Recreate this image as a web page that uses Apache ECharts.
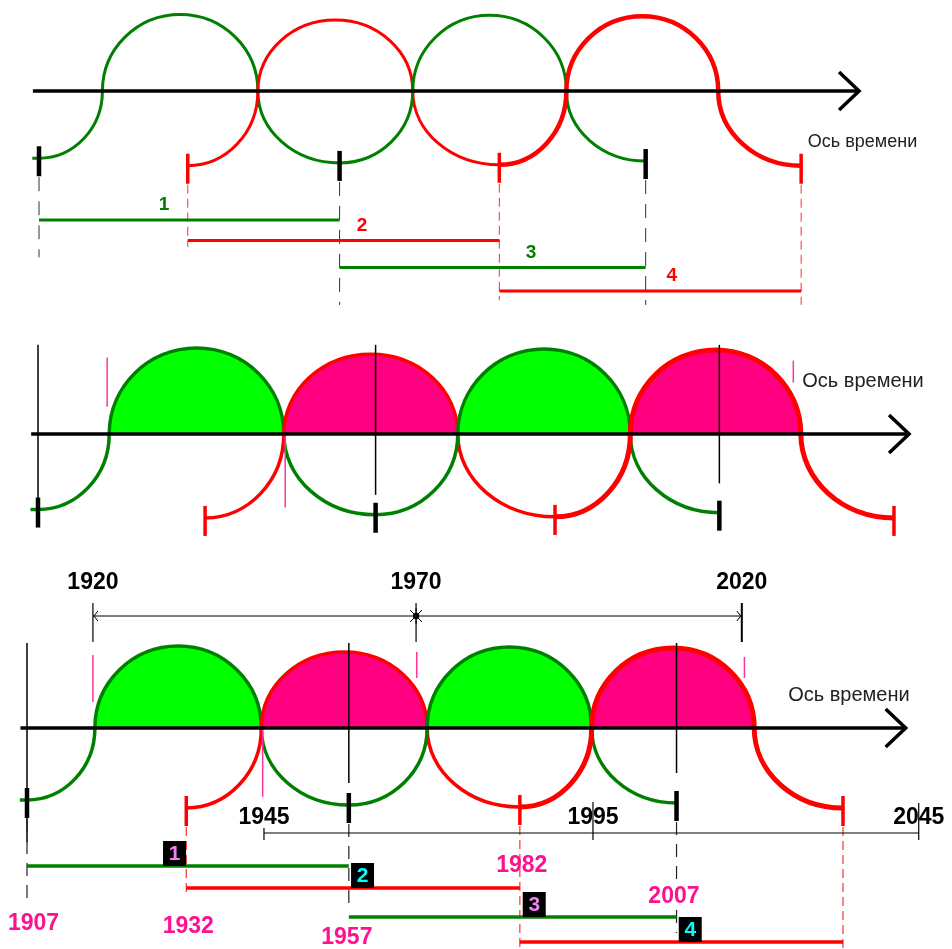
<!DOCTYPE html>
<html>
<head>
<meta charset="utf-8">
<script src="https://cdn.jsdelivr.net/npm/echarts@6/dist/echarts.min.js"></script>
<style>
  html, body { margin: 0; background: #fff; }
  #chart { width: 952px; height: 949px; }
</style>
</head>
<body>
<div id="chart"></div>
<script>
// ------------------------------------------------------------------
// data (x in years, y in amplitude units, axis = 0)
// ------------------------------------------------------------------
const tickYears     = [1907, 1931.4, 1956.3, 1982.5, 2006.5, 2032]   // wave start / end ticks
const tickLabels    = ['1907', '1932', '1957', '1982', '2007']
const crossYears    = [1917.4, 1942.9, 1968.3, 1993.5, 2018.4]       // where the waves cut the axis
const crestHeights  = [82, 76, 81, 80]
const troughDepths  = [72, 80, 77, 79, 75, 80]
const waveNames     = ['1', '2', '3', '4']
const segmentLevels = [-138, -160, -189, -214]
const axisStart     = 1906
const axisEnds      = [2041.5, 2034.2, 2041.6]
const axisTitle     = 'Ось времени'
const axisTitleAt   = [[2033.1, -55], [2018.6, 50], [2023.6, 33]]

// top panel
const topNumberAt = [1927.5, 1960, 1987.7, 2010.8]
const topDropEnds = [-178, -167, -229, -224, -229, -229]

// middle panel
const midGuides = [[1907, 85, -61], [1956.3, 85, -58], [2006.5, 85, -47]]
const midMarks  = [[1917.1, 73, 26], [1943.1, 1, -70], [2017.3, 70, 49]]

// bottom panel
const botGuides        = [[1907, 85, -114], [1956.3, 85, -55], [2006.5, 85, -45]]
const botMarks         = [[1917.1, 73, 26], [1966.7, 76, 50], [2016.9, 71, 50], [1943.1, 0, -69]]
const botDropEnds      = [-175, -165, -175, -221, -205, -221]
const upperScaleAt     = [1917.1, 1966.6, 2016.5]
const upperScaleLabels = ['1920', '1970', '2020']
const upperScaleLevel  = 112
const lowerScaleAt     = [1943.3, 1993.7, 2043.6]
const lowerScaleLabels = ['1945', '1995', '2045']
const lowerScaleTops   = [-100, -74, -75]
const lowerScaleLevel  = -105
const yearLabelAt      = [1908, 1931.7, 1956, 1982.8, 2006.1]
const yearLabelLevels  = [-196, -199, -210, -138, -169]
const boxNumberAt      = [1929.6, 1958.4, 1984.7, 2008.6]

// ------------------------------------------------------------------
// layout / styles
// ------------------------------------------------------------------
const PX_PER_YEAR = 6.528
const panels = [
  { axisY: 91,  scale: 0.934, x1907: 39, fill: false, widths: [3, 3, 3, 4.5], titleSize: 18 },
  { axisY: 434, scale: 1.049, x1907: 38, fill: true,  widths: [3.5, 3.5, 3.5, 5], titleSize: 20 },
  { axisY: 728, scale: 1.0,   x1907: 27, fill: true,  widths: [3.5, 3.5, 3.5, 5], titleSize: 20 },
]
const GREEN = '#008000'
const RED = '#ff0000'
const PINK = '#ff1090'
const waveColors = [GREEN, RED, GREEN, RED]
const fillColors = ['#00ff00', '#ff0080', '#00ff00', '#ff0080']
const boxDigitColors = ['#ee82ee', '#00ffff', '#ee82ee', '#00ffff']
const K = 0.5523
const FONT = "'Liberation Sans', Arial, sans-serif"

const waveRows = waveNames.map((_, i) => [
  tickYears[i], crossYears[i], crossYears[i + 1], tickYears[i + 2],
  crestHeights[i], troughDepths[i], troughDepths[i + 2],
])

// ------------------------------------------------------------------
// helpers
// ------------------------------------------------------------------
function custom(p, data, renderItem, z) {
  return {
    type: 'custom', xAxisIndex: p, yAxisIndex: p, data, renderItem,
    clip: false, silent: true, animation: false, z,
  }
}

function lineSeries(p, items, z) {
  return custom(p, items.map((it) => it.v), (params, api) => {
    const it = items[params.dataIndex]
    const a = api.coord([api.value(0), api.value(1)])
    const b = api.coord([api.value(2), api.value(3)])
    const o = it.off || [0, 0]
    return {
      type: 'line',
      shape: { x1: a[0], y1: a[1] + o[0], x2: b[0], y2: b[1] + o[1] },
      style: Object.assign({ fill: 'none' }, it.style),
    }
  }, z)
}

function textSeries(p, items, z) {
  return custom(p, items.map((it) => it.v), (params, api) => {
    const it = items[params.dataIndex]
    const c = api.coord([api.value(0), api.value(1)])
    return {
      type: 'text',
      x: c[0] + (it.dx || 0),
      y: c[1] + (it.dy || 0),
      style: Object.assign({ text: it.text, align: 'center', verticalAlign: 'middle' }, it.style),
    }
  }, z)
}

function wavePath(api, first) {
  const v = (k) => api.value(k)
  const t0 = v(0), c0 = v(1), c1 = v(2), t2 = v(3), h = v(4), d0 = v(5), d2 = v(6)
  const m = (c0 + c1) / 2
  const rx = (c1 - c0) / 2
  const pt = (x, y) => api.coord([x, y]).map((n) => n.toFixed(2)).join(' ')
  let d = first ? `M ${pt(t0 - 1.1, -d0)} L ${pt(t0, -d0)} ` : `M ${pt(t0, -d0)} `
  d += `C ${pt(t0 + K * (c0 - t0), -d0)} ${pt(c0, -K * d0)} ${pt(c0, 0)} `
  d += `C ${pt(c0, K * h)} ${pt(m - K * rx, h)} ${pt(m, h)} `
  d += `C ${pt(m + K * rx, h)} ${pt(c1, K * h)} ${pt(c1, 0)} `
  d += `C ${pt(c1, -K * d2)} ${pt(t2 - K * (t2 - c1), -d2)} ${pt(t2, -d2)}`
  return d
}

function crestPath(api) {
  const c0 = api.value(1), c1 = api.value(2), h = api.value(4)
  const m = (c0 + c1) / 2
  const rx = (c1 - c0) / 2
  const pt = (x, y) => api.coord([x, y]).map((n) => n.toFixed(2)).join(' ')
  return `M ${pt(c0, 0)} C ${pt(c0, K * h)} ${pt(m - K * rx, h)} ${pt(m, h)} ` +
    `C ${pt(m + K * rx, h)} ${pt(c1, K * h)} ${pt(c1, 0)} Z`
}

// ------------------------------------------------------------------
// series for one panel
// ------------------------------------------------------------------
function panelSeries(p) {
  const cfg = panels[p]
  const out = []

  if (cfg.fill) {
    out.push(custom(p, waveRows, (params, api) => ({
      type: 'path',
      shape: { pathData: crestPath(api) },
      style: { fill: fillColors[params.dataIndex], stroke: 'none' },
    }), 1))
  }

  out.push(custom(p, waveRows, (params, api) => ({
    type: 'path',
    shape: { pathData: wavePath(api, params.dataIndex === 0) },
    style: {
      fill: 'none', stroke: waveColors[params.dataIndex],
      lineWidth: cfg.widths[params.dataIndex], lineJoin: 'round',
    },
  }), 3))

  // time axis with open arrow
  out.push(custom(p, [[axisStart, 0, axisEnds[p]]], (params, api) => {
    const a = api.coord([api.value(0), 0])
    const b = api.coord([api.value(2), 0])
    return {
      type: 'group',
      children: [
        { type: 'line', shape: { x1: a[0], y1: a[1], x2: b[0], y2: b[1] }, style: { stroke: '#000', lineWidth: 3.5 } },
        {
          type: 'polyline',
          shape: { points: [[b[0] - 20, b[1] - 19], [b[0], b[1]], [b[0] - 20, b[1] + 19]] },
          style: { fill: 'none', stroke: '#000', lineWidth: 3.5 },
        },
      ],
    }
  }, 6))

  // wave end ticks
  const ticks = tickYears.map((x, i) => ({
    v: [x, -troughDepths[i], x, -troughDepths[i]],
    off: [-12, 18],
    style: { stroke: i % 2 ? RED : '#000', lineWidth: i % 2 ? 3.5 : 4.5 },
  }))
  out.push(lineSeries(p, ticks, 7))

  const texts = [{
    v: axisTitleAt[p], text: axisTitle,
    style: { align: 'left', fill: '#222', font: `${cfg.titleSize}px ${FONT}` },
  }]
  const lines = []

  if (p === 0) {
    tickYears.forEach((x, i) => lines.push({
      v: [x, -troughDepths[i], x, topDropEnds[i]],
      off: [19, 0],
      style: { stroke: i % 2 ? '#ff3030' : '#333', lineWidth: 1, lineDash: i % 2 ? [9, 5] : [14, 10] },
    }))
    waveNames.forEach((name, i) => {
      lines.push({
        v: [tickYears[i], segmentLevels[i], tickYears[i + 2], segmentLevels[i]],
        style: { stroke: waveColors[i], lineWidth: 3 },
      })
      texts.push({
        v: [topNumberAt[i], segmentLevels[i]], dy: -15, text: name,
        style: { fill: waveColors[i], font: `bold 19px ${FONT}` },
      })
    })
  }

  if (p === 1) {
    midGuides.forEach((g) => lines.push({ v: [g[0], g[1], g[0], g[2]], style: { stroke: '#000', lineWidth: 1.5 } }))
    midMarks.forEach((g) => lines.push({ v: [g[0], g[1], g[0], g[2]], style: { stroke: '#ff3399', lineWidth: 1.5 } }))
  }

  if (p === 2) {
    botGuides.forEach((g) => lines.push({ v: [g[0], g[1], g[0], g[2]], style: { stroke: '#000', lineWidth: 1.5 } }))
    botMarks.forEach((g) => lines.push({ v: [g[0], g[1], g[0], g[2]], style: { stroke: '#ff3399', lineWidth: 1.5 } }))
    tickYears.forEach((x, i) => lines.push({
      v: [x, -troughDepths[i], x, botDropEnds[i]],
      off: [19, 0],
      style: { stroke: i % 2 ? '#ff3030' : '#222', lineWidth: 1.2, lineDash: i % 2 ? [9, 5] : [13, 9] },
    }))
    waveNames.forEach((_, i) => lines.push({
      v: [tickYears[i], segmentLevels[i], tickYears[i + 2], segmentLevels[i]],
      style: { stroke: waveColors[i], lineWidth: 3.5 },
    }))

    // upper dimension line 1920 - 1970 - 2020
    lines.push({
      v: [upperScaleAt[0], upperScaleLevel, upperScaleAt[2], upperScaleLevel],
      style: { stroke: '#000', lineWidth: 1 },
    })
    upperScaleAt.forEach((x, i) => {
      lines.push({ v: [x, upperScaleLevel + 13, x, upperScaleLevel - 26], style: { stroke: '#000', lineWidth: i === 2 ? 2 : 1.2 } })
      texts.push({ v: [x, upperScaleLevel + 33], text: upperScaleLabels[i], style: { fill: '#000', font: `bold 23px ${FONT}` } })
    })

    // lower dimension line 1945 - 1995 - 2045
    lines.push({
      v: [lowerScaleAt[0], lowerScaleLevel, lowerScaleAt[2], lowerScaleLevel],
      style: { stroke: '#000', lineWidth: 1 },
    })
    lowerScaleAt.forEach((x, i) => {
      lines.push({ v: [x, lowerScaleTops[i], x, lowerScaleLevel - 7], style: { stroke: '#000', lineWidth: 1.2 } })
      texts.push({ v: [x, lowerScaleLevel + 15], text: lowerScaleLabels[i], style: { fill: '#000', font: `bold 23px ${FONT}` } })
    })

    tickLabels.forEach((t, i) => texts.push({
      v: [yearLabelAt[i], yearLabelLevels[i]], text: t,
      style: { fill: PINK, font: `bold 23px ${FONT}` },
    }))

    // small arrow heads and the star on the upper dimension line
    out.push(custom(p, upperScaleAt.map((x) => [x, upperScaleLevel]), (params, api) => {
      const c = api.coord([api.value(0), api.value(1)])
      const st = { fill: 'none', stroke: '#000', lineWidth: 1 }
      if (params.dataIndex === 1) {
        return {
          type: 'group',
          children: [
            { type: 'rect', shape: { x: c[0] - 3, y: c[1] - 3, width: 6, height: 6 }, style: { fill: '#000' } },
            { type: 'line', shape: { x1: c[0] - 6, y1: c[1] - 6, x2: c[0] + 6, y2: c[1] + 6 }, style: st },
            { type: 'line', shape: { x1: c[0] + 6, y1: c[1] - 6, x2: c[0] - 6, y2: c[1] + 6 }, style: st },
            { type: 'line', shape: { x1: c[0], y1: c[1] - 8, x2: c[0], y2: c[1] + 8 }, style: st },
          ],
        }
      }
      const dir = params.dataIndex === 0 ? 1 : -1
      return {
        type: 'polyline',
        shape: { points: [[c[0] + dir * 5, c[1] - 5], [c[0] + dir * 1, c[1]], [c[0] + dir * 5, c[1] + 5]] },
        style: st,
      }
    }, 8))

    // numbered black boxes sitting on the period lines
    out.push(custom(p, boxNumberAt.map((x, i) => [x, segmentLevels[i]]), (params, api) => {
      const c = api.coord([api.value(0), api.value(1)])
      const i = params.dataIndex
      return {
        type: 'group',
        children: [
          { type: 'rect', shape: { x: c[0] - 11.5, y: c[1] - 25, width: 23, height: 25 }, style: { fill: '#000' } },
          {
            type: 'text', x: c[0], y: c[1] - 12,
            style: { text: waveNames[i], align: 'center', verticalAlign: 'middle', fill: boxDigitColors[i], font: `bold 21px ${FONT}` },
          },
        ],
      }
    }, 9))
  }

  out.push(lineSeries(p, lines, 5))
  out.push(textSeries(p, texts, 10))
  return out
}

// ------------------------------------------------------------------
// chart
// ------------------------------------------------------------------
const chart = echarts.init(document.getElementById('chart'))

chart.setOption({
  animation: false,
  backgroundColor: '#fff',
  grid: panels.map((c) => ({
    left: c.x1907,
    top: c.axisY - 80 * c.scale,
    width: 125 * PX_PER_YEAR * c.scale,
    height: 160 * c.scale,
    containLabel: false,
    outerBoundsMode: 'none',
  })),
  xAxis: panels.map((_, i) => ({ type: 'value', gridIndex: i, min: 1907, max: 2032, show: false })),
  yAxis: panels.map((_, i) => ({ type: 'value', gridIndex: i, min: -80, max: 80, show: false })),
  series: panels.flatMap((_, p) => panelSeries(p)),
})
</script>
</body>
</html>
